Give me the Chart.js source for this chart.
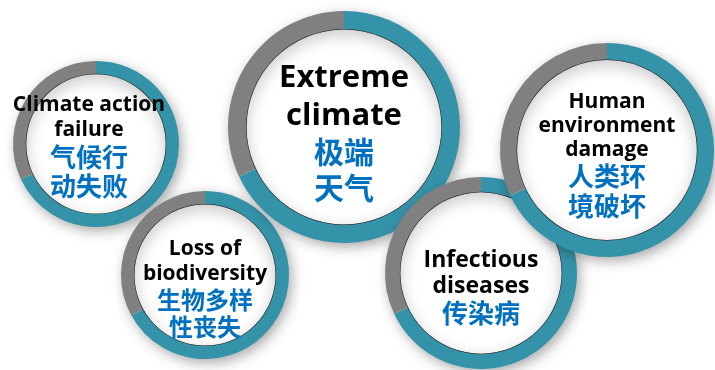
<!DOCTYPE html>
<html>
<head>
<meta charset="utf-8">
<script src="https://cdn.jsdelivr.net/npm/chart.js@4.4.1/dist/chart.umd.min.js"></script>
<style>
    html, body { margin: 0; padding: 0; background: #ffffff; }
    #stage { position: relative; width: 715px; height: 370px; overflow: hidden; }
    .ring { position: absolute; }
    .label {
        position: absolute;
        transform: translate(-50%, -50%);
        text-align: center;
        white-space: nowrap;
        font-weight: 700;
    }
    .label .en { color: #000000; font-family: "Open Sans", "Noto Sans", sans-serif; }
    .label .zh { color: #0070C0; font-family: "Noto Sans CJK SC", sans-serif; }
</style>
</head>
<body>
<div id="stage"></div>

<script>
// ===================================
// Data
// ===================================
const riskNamesEn = [
    ['Climate action', 'failure'],
    ['Loss of', 'biodiversity'],
    ['Extreme', 'climate'],
    ['Infectious', 'diseases'],
    ['Human', 'environment', 'damage']
];
const riskNamesZh = [
    ['气候行', '动失败'],
    ['生物多样', '性丧失'],
    ['极端', '天气'],
    ['传染病'],
    ['人类环', '境破坏']
];
const tealShare = [68, 67, 68, 68, 68];
const grayShare = [32, 33, 32, 32, 32];

// ===================================
// Layout (drawing order = list order)
// ===================================
const ringLayout = [
    { cx: 96,  cy: 144, r: 83 },
    { cx: 205, cy: 275, r: 84 },
    { cx: 344, cy: 127, r: 116 },
    { cx: 481, cy: 273, r: 96 },
    { cx: 607, cy: 150, r: 107 }
];
const textLayout = [
    { x: 89,  y: 145, en: 21, enLh: 25, zh: 26, zhLh: 29 },
    { x: 205, y: 287, en: 21, enLh: 25, zh: 24, zhLh: 27 },
    { x: 344, y: 130, en: 31, enLh: 38, zh: 30, zhLh: 36 },
    { x: 481, y: 286, en: 23, enLh: 26, zh: 26, zhLh: 30 },
    { x: 607, y: 154, en: 21, enLh: 24, zh: 26, zhLh: 30 }
];

const PAD = 18;
const TEAL = '#3593A9';
const GRAY = '#808080';

// drop shadow under the ring + soft inner shadow inside it
const ringShadow = {
    id: 'ringShadow',
    beforeDatasetsDraw(chart) {
        const arc = chart.getDatasetMeta(0).data[0];
        if (!arc) return;
        const p = arc.getProps(['x', 'y', 'outerRadius'], true);
        const ctx = chart.ctx;
        ctx.save();
        ctx.shadowColor = 'rgba(0, 0, 0, 0.38)';
        ctx.shadowBlur = 14;
        ctx.shadowOffsetX = 3;
        ctx.shadowOffsetY = 4;
        ctx.beginPath();
        ctx.arc(p.x, p.y, p.outerRadius - 1, 0, Math.PI * 2);
        ctx.fillStyle = '#ffffff';
        ctx.fill();
        ctx.restore();
    },
    afterDatasetsDraw(chart) {
        const arc = chart.getDatasetMeta(0).data[0];
        if (!arc) return;
        const p = arc.getProps(['x', 'y', 'innerRadius'], true);
        const ctx = chart.ctx;
        ctx.save();
        ctx.beginPath();
        ctx.arc(p.x, p.y, p.innerRadius + 0.5, 0, Math.PI * 2);
        ctx.clip();
        ctx.fillStyle = '#ffffff';
        ctx.fill();
        // inner shadow: ring outside the clip casts its blur inwards
        ctx.shadowColor = 'rgba(0, 0, 0, 0.22)';
        ctx.shadowBlur = 16;
        ctx.shadowOffsetX = 0;
        ctx.shadowOffsetY = 5;
        ctx.beginPath();
        ctx.arc(p.x, p.y, p.innerRadius + 60, 0, Math.PI * 2);
        ctx.arc(p.x, p.y, p.innerRadius, 0, Math.PI * 2, true);
        ctx.fillStyle = '#000000';
        ctx.fill();
        ctx.restore();
    }
};

function buildRing(i) {
    const stage = document.getElementById('stage');
    const lay = ringLayout[i];
    const box = document.createElement('div');
    box.className = 'ring';
    const size = 2 * (lay.r + PAD);
    box.style.left = (lay.cx - lay.r - PAD) + 'px';
    box.style.top = (lay.cy - lay.r - PAD) + 'px';
    box.style.width = size + 'px';
    box.style.height = size + 'px';
    const canvas = document.createElement('canvas');
    box.appendChild(canvas);
    stage.appendChild(box);

    new Chart(canvas, {
        type: 'doughnut',
        data: {
            labels: ['share', 'rest'],
            datasets: [{
                data: [tealShare[i], grayShare[i]],
                backgroundColor: [TEAL, GRAY],
                borderWidth: 0,
                hoverOffset: 0,
                offset: 0
            }]
        },
        options: {
            responsive: true,
            maintainAspectRatio: false,
            animation: false,
            cutout: '84%',
            events: [],
            layout: { padding: PAD },
            plugins: {
                legend: { display: false },
                tooltip: { enabled: false }
            }
        },
        plugins: [ringShadow]
    });
}

function buildLabel(i) {
    const stage = document.getElementById('stage');
    const t = textLayout[i];
    const label = document.createElement('div');
    label.className = 'label';
    label.style.left = t.x + 'px';
    label.style.top = t.y + 'px';
    label.style.zIndex = 10 + i;
    label.innerHTML =
        riskNamesEn[i].map(s => `<div class="en" style="font-size:${t.en}px;line-height:${t.enLh}px">${s}</div>`).join('') +
        riskNamesZh[i].map(s => `<div class="zh" style="font-size:${t.zh}px;line-height:${t.zhLh}px">${s}</div>`).join('');
    stage.appendChild(label);
}

for (let i = 0; i < ringLayout.length; i++) {
    buildRing(i);
}
for (let i = 0; i < ringLayout.length; i++) {
    buildLabel(i);
}
</script>
</body>
</html>
